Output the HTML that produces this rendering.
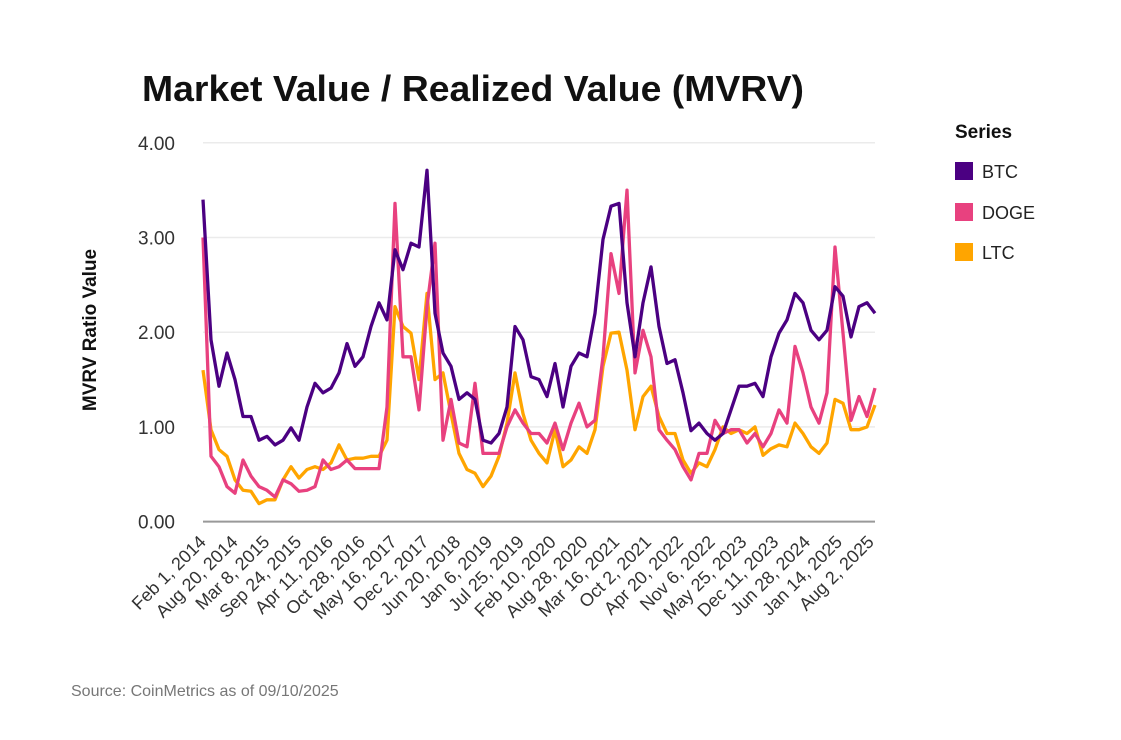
<!DOCTYPE html>
<html><head><meta charset="utf-8"><style>
body{margin:0;background:#fff;font-family:"Liberation Sans",sans-serif}
svg text{font-family:"Liberation Sans",sans-serif}
</style></head><body>
<svg width="1121" height="735" viewBox="0 0 1121 735">
<text x="142" y="101" font-size="36" font-weight="bold" fill="#111" textLength="662" lengthAdjust="spacingAndGlyphs">Market Value / Realized Value (MVRV)</text>
<g id="grid"></g>
<g id="yticks"></g>
<g id="xticks"></g>
<text transform="translate(96,330) rotate(-90)" text-anchor="middle" font-size="19" font-weight="bold" fill="#111">MVRV Ratio Value</text>
<g id="series"></g>
<g>
<text x="955" y="138" font-size="19" font-weight="bold" fill="#111">Series</text>
<g><rect x="955" y="162" width="18" height="18" fill="#4b0082"/><text x="982" y="178" font-size="18" fill="#222">BTC</text></g>
<g><rect x="955" y="203" width="18" height="18" fill="#e8417f"/><text x="982" y="219" font-size="18" fill="#222">DOGE</text></g>
<g><rect x="955" y="243" width="18" height="18" fill="#ffa500"/><text x="982" y="259" font-size="18" fill="#222">LTC</text></g>
</g>
<text x="71" y="696" font-size="16" fill="#777">Source: CoinMetrics as of 09/10/2025</text>
</svg>
<script>
const yTicks=[0,1,2,3,4];
const xLabels=["Feb 1, 2014","Aug 20, 2014","Mar 8, 2015","Sep 24, 2015","Apr 11, 2016","Oct 28, 2016","May 16, 2017","Dec 2, 2017","Jun 20, 2018","Jan 6, 2019","Jul 25, 2019","Feb 10, 2020","Aug 28, 2020","Mar 16, 2021","Oct 2, 2021","Apr 20, 2022","Nov 6, 2022","May 25, 2023","Dec 11, 2023","Jun 28, 2024","Jan 14, 2025","Aug 2, 2025"];
const btc=[3.4,1.92,1.43,1.78,1.5,1.11,1.11,0.86,0.9,0.81,0.86,0.99,0.86,1.21,1.46,1.36,1.41,1.57,1.88,1.64,1.74,2.06,2.31,2.13,2.87,2.66,2.94,2.9,3.71,2.2,1.78,1.64,1.29,1.36,1.29,0.86,0.83,0.93,1.21,2.06,1.92,1.53,1.5,1.32,1.67,1.21,1.64,1.78,1.74,2.2,2.98,3.33,3.36,2.31,1.74,2.31,2.69,2.06,1.67,1.71,1.36,0.96,1.04,0.93,0.86,0.93,1.18,1.43,1.43,1.46,1.32,1.74,1.99,2.13,2.41,2.31,2.02,1.92,2.02,2.48,2.38,1.95,2.27,2.31,2.2];
const doge=[3.0,0.69,0.58,0.37,0.3,0.65,0.48,0.37,0.33,0.26,0.44,0.4,0.32,0.33,0.37,0.65,0.55,0.58,0.65,0.56,0.56,0.56,0.56,1.21,3.36,1.74,1.74,1.18,2.27,2.94,0.86,1.29,0.83,0.79,1.46,0.72,0.72,0.72,1.0,1.18,1.04,0.93,0.93,0.83,1.04,0.76,1.04,1.25,1.0,1.07,1.74,2.83,2.41,3.5,1.57,2.02,1.74,0.97,0.86,0.76,0.58,0.44,0.72,0.72,1.07,0.93,0.97,0.97,0.83,0.93,0.79,0.93,1.18,1.04,1.85,1.57,1.21,1.04,1.36,2.9,1.99,1.07,1.32,1.11,1.41];
const ltc=[1.6,0.97,0.76,0.69,0.44,0.33,0.32,0.19,0.23,0.23,0.44,0.58,0.46,0.55,0.58,0.55,0.62,0.81,0.65,0.67,0.67,0.69,0.69,0.86,2.27,2.06,1.99,1.5,2.41,1.5,1.57,1.14,0.72,0.55,0.51,0.37,0.48,0.69,1.04,1.57,1.14,0.86,0.72,0.62,0.97,0.58,0.65,0.79,0.72,0.97,1.64,1.99,2.0,1.6,0.97,1.32,1.43,1.11,0.93,0.93,0.65,0.51,0.62,0.58,0.76,1.0,0.93,0.97,0.93,1.0,0.7,0.77,0.81,0.79,1.04,0.93,0.79,0.72,0.83,1.29,1.25,0.97,0.97,1.0,1.23];
const X0=203,X1=875,Y0=521.6,PU=94.7;
const xs=i=>X0+i*(X1-X0)/(btc.length-1);
const ys=v=>Y0-v*PU;
const NS="http://www.w3.org/2000/svg";
function mk(t,a,p){const e=document.createElementNS(NS,t);for(const k in a)e.setAttribute(k,a[k]);p.appendChild(e);return e;}
const grid=document.getElementById('grid'),yt=document.getElementById('yticks'),xt=document.getElementById('xticks'),sg=document.getElementById('series');
yTicks.forEach(v=>{
 const l=mk('line',{x1:X0,x2:X1,y1:ys(v),y2:ys(v),stroke:v===0?'#999':'#ebebeb','stroke-width':v===0?2:1.5},grid);
 
 
 const t=mk('text',{x:175,y:ys(v)+7,'text-anchor':'end','font-size':19,fill:'#333'},yt);
 t.textContent=v.toFixed(2);
 
 
});
const step=(873-205)/(xLabels.length-1);
xLabels.forEach((s,i)=>{
 const x=207+i*step;
 const t=mk('text',{transform:`translate(${x},543) rotate(-45)`,'text-anchor':'end','font-size':18,fill:'#333'},xt);
 t.textContent=s;
 
 
});
[[ltc,'#ffa500','ltc-line'],[doge,'#e8417f','doge-line'],[btc,'#4b0082','btc-line']].forEach(([d,c,n])=>{
 const p=mk('path',{d:d.map((v,i)=>(i?'L':'M')+xs(i).toFixed(1)+','+ys(v).toFixed(1)).join(''),fill:'none',stroke:c,'stroke-width':3.3,'stroke-linejoin':'round'},sg);
 
 
});
</script>
</body></html>
